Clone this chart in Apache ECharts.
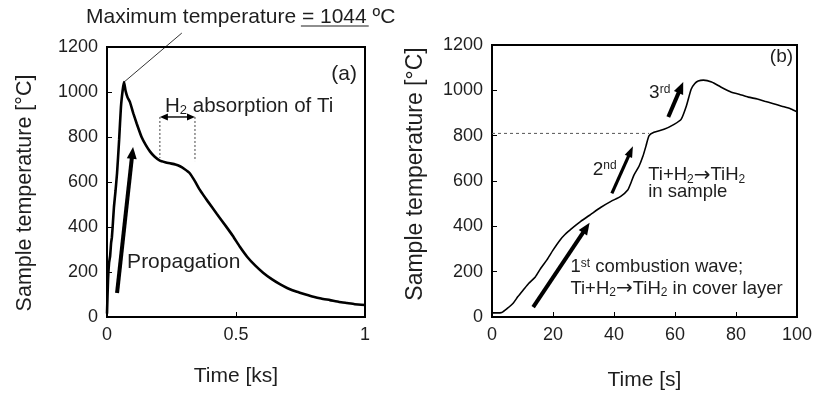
<!DOCTYPE html>
<html>
<head>
<meta charset="utf-8">
<script src="https://cdn.jsdelivr.net/npm/echarts@6/dist/echarts.min.js"></script>
<style>
  html, body { margin: 0; padding: 0; background: #fff; }
  #chart { width: 814px; height: 395px; }
</style>
</head>
<body>
<div id="chart"></div>
<script>
// (a) temperature vs time [ks]
const leftTime = [0, 0.004, 0.008, 0.012, 0.016, 0.019, 0.023, 0.027, 0.033, 0.039, 0.047, 0.054, 0.061, 0.066,
  0.072, 0.08, 0.089, 0.102, 0.115, 0.134, 0.15, 0.167, 0.185, 0.205, 0.225, 0.244, 0.265, 0.283, 0.3,
  0.32, 0.34, 0.36, 0.39, 0.426, 0.46, 0.488, 0.515, 0.543, 0.575, 0.605, 0.64, 0.67, 0.7, 0.736,
  0.77, 0.8, 0.83, 0.864, 0.9, 0.93, 0.96, 1.0];
const leftTemp = [15, 165, 240, 270, 330, 355, 420, 490, 560, 640, 787, 933, 1010, 1044,
  1005, 975, 955, 905, 860, 800, 765, 735, 712, 695, 688, 683, 678, 670, 658,
  640, 605, 565, 515, 458, 405, 360, 312, 268, 228, 197, 167, 146, 128, 112,
  100, 90, 82, 75, 67, 62, 57, 53];

// (b) temperature vs time [s]
const rightTime = [0, 1.6, 3.2, 5, 7, 8.5, 10.3, 12, 14.2, 16, 18, 20, 22.4, 24, 25.7, 27.5, 29, 32.3,
  35.6, 39, 42.2, 44.5, 45.5, 46.5, 48.2, 49.5, 50.5, 51.5, 53.1, 56.4, 59.7, 62, 63.7, 65.3, 66.5,
  67.6, 69.3, 72, 75, 78.5, 81, 84, 87, 89.4, 92, 95, 98, 100];
const rightTemp = [18, 18, 20, 38, 62, 90, 120, 148, 177, 215, 252, 295, 341, 365, 385, 405, 421, 452,
  483, 510, 532, 560, 590, 625, 665, 710, 755, 800, 815, 828, 850, 872, 930, 1005, 1030,
  1041, 1045, 1037, 1015, 992, 983, 970, 962, 952, 942, 930, 918, 905];

// annotation anchors (data units)
const propArrow = [[0.039, 107], [0.101, 756]];
const leaderLine = [[0.066, 1044], [0.29, 1262]];
const h2Span = [[0.205, 889], [0.341, 889]];
const h2Drops = [[0.205, 707], [0.341, 693]];
const firstArrow = [[13.5, 44], [32, 416]];
const secondArrow = [[39.3, 545], [46.2, 753]];
const thirdArrow = [[57.8, 882], [62.7, 1037]];
const dashLine = [[0, 810], [51.5, 810]];

const FONT = 'Liberation Sans, Arial, sans-serif';
const INK = '#1e1e1e';

const chart = echarts.init(document.getElementById('chart'));

function axisX(gridIndex, max, interval, name, gap) {
  return {
    gridIndex: gridIndex, type: 'value', min: 0, max: max, interval: interval,
    name: name, nameLocation: 'middle', nameGap: gap,
    nameTextStyle: { fontFamily: FONT, fontSize: 21, color: INK },
    axisLine: { show: true, lineStyle: { color: '#000', width: 2 } },
    axisTick: { show: true, inside: true, length: 5, lineStyle: { color: '#000', width: 1 } },
    axisLabel: { fontFamily: FONT, fontSize: 18, color: INK, margin: 9, formatter: v => String(v) },
    splitLine: { show: false }
  };
}

function axisY(gridIndex, gap, size, pad) {
  return {
    gridIndex: gridIndex, type: 'value', min: 0, max: 1200, interval: 200,
    name: 'Sample temperature [°C]', nameLocation: 'middle', nameGap: gap,
    nameTextStyle: { fontFamily: FONT, fontSize: size, color: INK, padding: pad },
    axisLine: { show: true, lineStyle: { color: '#000', width: 2 } },
    axisTick: { show: true, inside: true, length: 5, lineStyle: { color: '#000', width: 1 } },
    axisLabel: { fontFamily: FONT, fontSize: 18, color: INK, margin: 9, formatter: v => String(v) },
    splitLine: { show: false }
  };
}

chart.setOption({
  animation: false,
  backgroundColor: '#fff',
  grid: [
    { left: 107, top: 47, width: 258, height: 270, show: true, borderColor: '#000', borderWidth: 2, outerBoundsMode: 'none' },
    { left: 492, top: 45, width: 305, height: 272, show: true, borderColor: '#000', borderWidth: 2, outerBoundsMode: 'none' }
  ],
  xAxis: [
    axisX(0, 1, 0.5, 'Time [ks]', 49),
    axisX(1, 100, 20, 'Time [s]', 53)
  ],
  yAxis: [
    axisY(0, 71, 21.5, [0, 22, 0, 0]),
    axisY(1, 65, 23, [0, 0, 0, 14])
  ],
  series: [
    {
      type: 'line', xAxisIndex: 0, yAxisIndex: 0, showSymbol: false, smooth: 0.15,
      lineStyle: { color: '#000', width: 2.6 },
      data: leftTime.map((t, i) => [t, leftTemp[i]])
    },
    {
      type: 'line', xAxisIndex: 1, yAxisIndex: 1, showSymbol: false, smooth: 0.2,
      lineStyle: { color: '#000', width: 1.6 },
      data: rightTime.map((t, i) => [t, rightTemp[i]])
    }
  ]
});

const px = (g, p) => chart.convertToPixel({ gridIndex: g }, p);

// thick arrow: shaft + triangular head
function arrow(g, pts, w, headLen, headW) {
  const a = px(g, pts[0]), b = px(g, pts[1]);
  const dx = b[0] - a[0], dy = b[1] - a[1];
  const len = Math.sqrt(dx * dx + dy * dy);
  const ux = dx / len, uy = dy / len;
  const bx = b[0] - ux * headLen, by = b[1] - uy * headLen;
  return [
    { type: 'line', shape: { x1: a[0], y1: a[1], x2: bx + ux * 2, y2: by + uy * 2 },
      style: { stroke: '#000', lineWidth: w }, z: 10 },
    { type: 'polygon', shape: { points: [[b[0], b[1]],
        [bx - uy * headW / 2, by + ux * headW / 2], [bx + uy * headW / 2, by - ux * headW / 2]] },
      style: { fill: '#000' }, z: 10 }
  ];
}

function label(g, p, text, size, align, rich) {
  const q = px(g, p);
  return {
    type: 'text', x: q[0], y: q[1], z: 11,
    style: { text: text, fill: INK, fontFamily: FONT, fontSize: size, align: align || 'left',
      verticalAlign: 'middle', rich: rich || {} }
  };
}

const subSup = (size, base) => ({
  sub: { fontFamily: FONT, fontSize: size, fill: INK, verticalAlign: 'bottom', lineHeight: size + 1 },
  sup: { fontFamily: FONT, fontSize: size, fill: INK, verticalAlign: 'top', lineHeight: size + 1 },
  ar: { fontFamily: 'DejaVu Sans', fontSize: base || 18, fill: INK }
});

const g = [];
// (a)
arrow(0, propArrow, 4, 12, 10).forEach(e => g.push(e));
const l0 = px(0, leaderLine[0]), l1 = px(0, leaderLine[1]);
g.push({ type: 'line', shape: { x1: l0[0], y1: l0[1], x2: l1[0], y2: l1[1] }, style: { stroke: '#000', lineWidth: 0.8 }, z: 10 });
const s0 = px(0, h2Span[0]), s1 = px(0, h2Span[1]);
const d0 = px(0, h2Drops[0]), d1 = px(0, h2Drops[1]);
g.push({ type: 'line', shape: { x1: s0[0], y1: s0[1], x2: d0[0], y2: d0[1] }, style: { stroke: '#444', lineWidth: 1, lineDash: [2, 2] }, z: 10 });
g.push({ type: 'line', shape: { x1: s1[0], y1: s1[1], x2: d1[0], y2: d1[1] }, style: { stroke: '#444', lineWidth: 1, lineDash: [2, 2] }, z: 10 });
g.push({ type: 'line', shape: { x1: s0[0] + 4, y1: s0[1], x2: s1[0] - 4, y2: s1[1] }, style: { stroke: '#000', lineWidth: 1.4 }, z: 10 });
g.push({ type: 'polygon', shape: { points: [[s0[0], s0[1]], [s0[0] + 8, s0[1] - 3.5], [s0[0] + 8, s0[1] + 3.5]] }, style: { fill: '#000' }, z: 10 });
g.push({ type: 'polygon', shape: { points: [[s1[0], s1[1]], [s1[0] - 8, s1[1] - 3.5], [s1[0] - 8, s1[1] + 3.5]] }, style: { fill: '#000' }, z: 10 });
g.push(label(0, [0.969, 1080], '(a)', 21, 'right'));
g.push(label(0, [0.225, 938], 'H{sub|2} absorption of Ti', 20.5, 'left', subSup(13)));
g.push(label(0, [0.078, 244], 'Propagation', 21));

// title above (a), with underlined value
const titleHead = 'Maximum temperature ';
const titleMark = '= 1044';
const titleTail = ' ºC';
const ctx = document.createElement('canvas').getContext('2d');
ctx.font = '21px ' + FONT;
const headW = ctx.measureText(titleHead).width;
const markW = ctx.measureText(titleMark).width;
g.push({ type: 'text', x: 86, y: 17, z: 11,
  style: { text: titleHead + titleMark + titleTail, fill: INK, fontFamily: FONT, fontSize: 21, verticalAlign: 'middle' } });
g.push({ type: 'line', shape: { x1: 86 + headW - 1, y1: 26, x2: 86 + headW + markW + 2, y2: 26 },
  style: { stroke: INK, lineWidth: 1.2 }, z: 11 });

// (b)
const k0 = px(1, dashLine[0]), k1 = px(1, dashLine[1]);
g.push({ type: 'line', shape: { x1: k0[0], y1: k0[1], x2: k1[0], y2: k1[1] }, style: { stroke: '#555', lineWidth: 1, lineDash: [3, 3] }, z: 10 });
arrow(1, firstArrow, 4, 12, 10).forEach(e => g.push(e));
arrow(1, secondArrow, 3.2, 11, 8).forEach(e => g.push(e));
arrow(1, thirdArrow, 4, 12, 10).forEach(e => g.push(e));
g.push(label(1, [98.7, 1148], '(b)', 19, 'right'));
g.push(label(1, [51.5, 988], '3{sup|rd}', 19, 'left', subSup(12)));
g.push(label(1, [33, 651], '2{sup|nd}', 19, 'left', subSup(12)));
g.push(label(1, [51.2, 625], 'Ti+H{sub|2}{ar|→}TiH{sub|2}', 18.5, 'left', subSup(12, 20)));
g.push(label(1, [51.2, 554], 'in sample', 18.5));
g.push(label(1, [25.7, 221], '1{sup|st} combustion wave;', 18.5, 'left', subSup(12)));
g.push(label(1, [25.7, 124], 'Ti+H{sub|2}{ar|→}TiH{sub|2} in cover layer', 18.5, 'left', subSup(12, 20)));

chart.setOption({ graphic: g });
</script>
</body>
</html>
